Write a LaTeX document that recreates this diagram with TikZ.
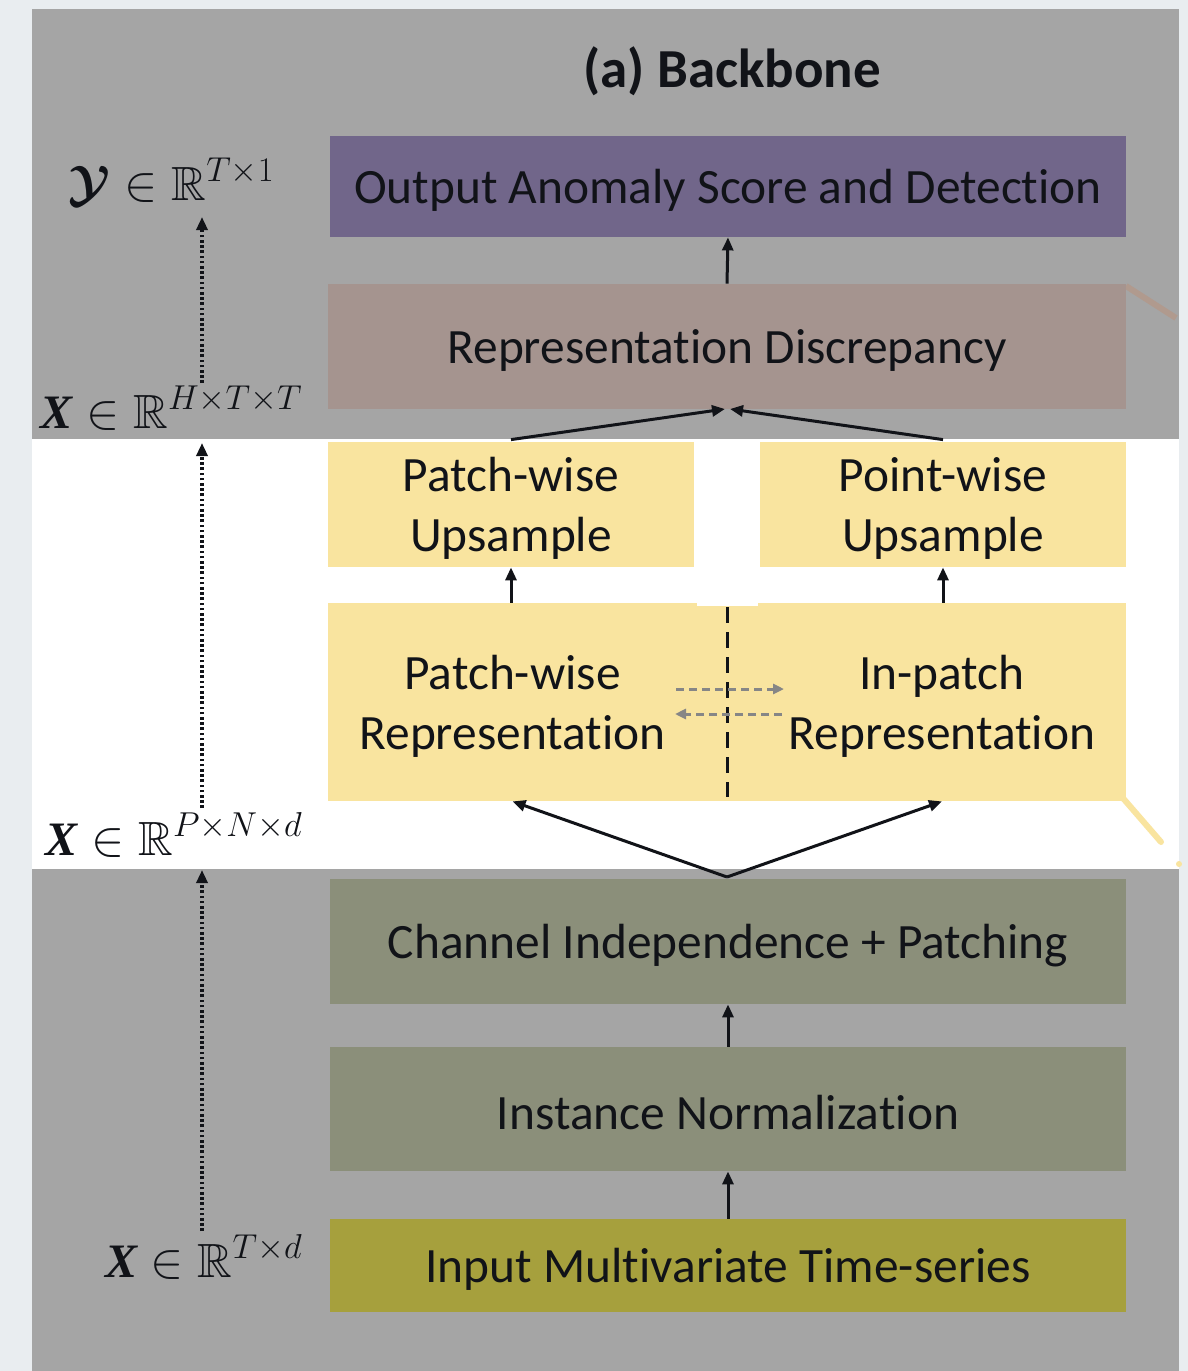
\documentclass[tikz,border=0pt]{standalone}
\usepackage{fontspec}
\setmainfont{Carlito}[Ligatures=NoCommon]
\newfontfamily\varfont{Liberation Serif}
\usepackage{amsmath,amssymb,bm}
\usetikzlibrary{arrows.meta,calc}

% tensor symbol used in the shape labels
\newcommand{\tensX}{\text{\varfont\bfseries\itshape X}}

\definecolor{pagebg}{HTML}{E9EDF0}
\definecolor{panelgray}{HTML}{A5A5A5}
\definecolor{outcol}{HTML}{71668A}
\definecolor{disccol}{HTML}{A5948F}
\definecolor{discline}{HTML}{B09A8E}
\definecolor{upcol}{HTML}{F9E49F}
\definecolor{prepcol}{HTML}{8B8F7A}
\definecolor{inpcol}{HTML}{A6A03D}
\definecolor{ink}{HTML}{111318}
\definecolor{swapgray}{HTML}{868686}

\tikzset{
  blk/.style={rectangle, inner sep=0pt},
  boxtext/.style={align=center, text=ink, inner sep=0pt, yshift=-2pt,
    font=\fontsize{24.7}{30}\selectfont},
  flow/.style={draw=ink, line width=1.5pt, -{Triangle[length=6.5pt,width=5.5pt]}},
  dotarrow/.style={draw=ink, line width=1.6pt, dash pattern=on 1.3pt off 1.3pt,
    -{Triangle[length=6.5pt,width=5.5pt]}},
  swap/.style={draw=swapgray, line width=1.5pt, dash pattern=on 4pt off 2.5pt,
    -{Triangle[length=5.5pt,width=5pt]}},
  dimlabel/.style={anchor=base east, inner sep=0pt, text=ink,
    font=\fontsize{24}{30}\selectfont},
}

\begin{document}
\begin{tikzpicture}[x=0.5pt, y=-0.5pt]
  % canvas, grey panel and the white middle band
  \useasboundingbox (0,0) rectangle (1188,1371);
  \fill[pagebg] (0,0) rectangle (1188,1371);
  \fill[panelgray] (32,9) rectangle (1179,1371);
  \fill[white] (32,439) rectangle (1179,869);

  % title
  \node[text=ink, font=\fontsize{27.5}{32}\selectfont\bfseries] (title) at (732,71) {(a) Backbone};

  % remnants of neighbouring connectors at the right edge
  \draw[discline, line width=3pt] (1126,286) -- (1176,318);
  \draw[upcol, line width=3pt, line cap=round] (1122,797) -- (1161,842);
  \fill[upcol] (1179,864) circle (3);

  % blocks
  \node[blk, fill=outcol, minimum width=398pt, minimum height=50.5pt,
    label={[boxtext]center:Output Anomaly Score and Detection}] (out) at (728,186.5) {};
  \node[blk, fill=disccol, minimum width=399pt, minimum height=62.5pt,
    label={[boxtext]center:Representation Discrepancy}] (disc) at (727,346.5) {};
  \node[blk, fill=upcol, minimum width=183pt, minimum height=62.5pt,
    label={[boxtext]center:{Patch-wise\\Upsample}}] (pup) at (511,504.5) {};
  \node[blk, fill=upcol, minimum width=183pt, minimum height=62.5pt,
    label={[boxtext]center:{Point-wise\\Upsample}}] (qup) at (943,504.5) {};
  \fill[upcol] (696,606) rectangle (759,801);
  \node[blk, fill=upcol, minimum width=184.5pt, minimum height=99pt,
    label={[boxtext]center:{Patch-wise\\Representation}}] (prep) at (512.5,702) {};
  \node[blk, fill=upcol, minimum width=184pt, minimum height=99pt,
    label={[boxtext]center:{In-patch\\Representation}}] (irep) at (942,702) {};
  \node[blk, fill=prepcol, minimum width=398pt, minimum height=62.5pt,
    label={[boxtext]center:Channel Independence + Patching}] (ci) at (728,941.5) {};
  \node[blk, fill=prepcol, minimum width=398pt, minimum height=62pt,
    label={[boxtext]center:Instance Normalization}] (inorm) at (728,1109) {};
  \node[blk, fill=inpcol, minimum width=398pt, minimum height=46.5pt,
    label={[boxtext]center:Input Multivariate Time-series}] (inp) at (728,1265.5) {};

  % divider between the two representation branches
  \coordinate (divtop) at (727,607);
  \coordinate (divbot) at (727,797);
  \draw[ink, line width=1.5pt, dash pattern=on 8pt off 4.5pt] (divtop) -- (divbot);

  % exchange between the two branches
  \coordinate (swapL1) at (676,689);
  \coordinate (swapR1) at (784,689);
  \coordinate (swapR2) at (782,714);
  \coordinate (swapL2) at (675,714);
  \draw[swap] (swapL1) -- (swapR1);
  \draw[swap] (swapR2) -- (swapL2);

  % main data flow
  \draw[flow] (inp.north) -- (inorm.south);
  \draw[flow] (inorm.north) -- (ci.south);
  \coordinate (fork) at (727,877);
  \draw[flow] (fork) -- (prep.south);
  \draw[flow] (fork) -- (irep.south);
  \draw[flow] (pup.south |- prep.north) -- (pup.south);
  \draw[flow] (qup.south |- irep.north) -- (qup.south);
  \coordinate (mergeL) at (725,409);
  \coordinate (mergeR) at (730,409);
  \draw[flow] ([yshift=1pt]pup.north) -- (mergeL);
  \draw[flow] ([yshift=1pt]qup.north) -- (mergeR);
  \draw[flow] (disc.north) -- (out.south);

  % tensor shapes along the left side
  \node[dimlabel] (ylab) at (275,200) {$\bm{\mathcal{Y}}\in\mathbb{R}^{T\times 1}$};
  \node[dimlabel] (xlab1) at (303,428) {$\tensX\in\mathbb{R}^{H\times T\times T}$};
  \node[dimlabel] (xlab2) at (303,855) {$\tensX\in\mathbb{R}^{P\times N\times d}$};
  \node[dimlabel] (xlab3) at (303,1277) {$\tensX\in\mathbb{R}^{T\times d}$};

  \coordinate (d1s) at (202,1231);
  \coordinate (d1e) at (202,870);
  \coordinate (d2s) at (202,808);
  \coordinate (d2e) at (202,443);
  \coordinate (d3s) at (202,383);
  \coordinate (d3e) at (202,217);
  \draw[dotarrow] (d1s) -- (d1e);
  \draw[dotarrow] (d2s) -- (d2e);
  \draw[dotarrow] (d3s) -- (d3e);
\end{tikzpicture}
\end{document}
